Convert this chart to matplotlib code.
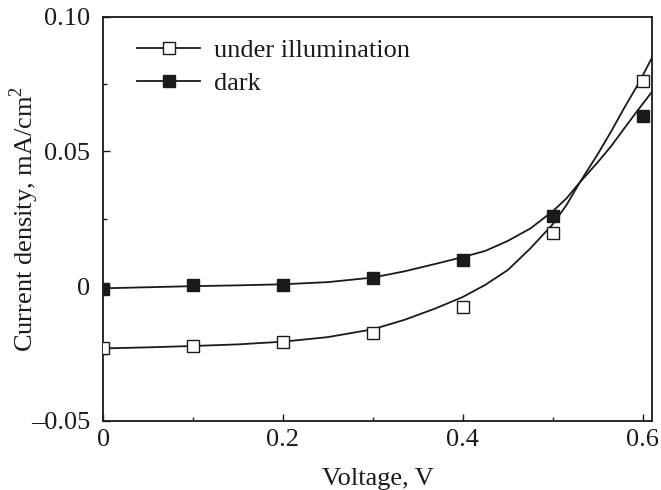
import matplotlib
matplotlib.use('Agg')
import matplotlib.pyplot as plt
from matplotlib.lines import Line2D
from matplotlib.ticker import FixedLocator, FuncFormatter

plt.rcParams['font.family'] = 'Liberation Serif'
plt.rcParams['mathtext.fontset'] = 'custom'
plt.rcParams['mathtext.rm'] = 'Liberation Serif'

# measured points
voltage = [0.0, 0.1, 0.2, 0.3, 0.4, 0.5, 0.6]
j_light = [-0.0231, -0.0222, -0.0206, -0.0173, -0.0076, 0.0198, 0.0763]
j_dark = [-0.0010, 0.0004, 0.0005, 0.0031, 0.0096, 0.0262, 0.0633]

# fitted curves
fit_v = [0.0, 0.05, 0.1, 0.15, 0.2, 0.25, 0.3, 0.335, 0.37, 0.4, 0.425,
         0.45, 0.475, 0.5, 0.515, 0.53, 0.55, 0.565, 0.58, 0.595, 0.61]
fit_light = [-0.0231, -0.0227, -0.0222, -0.0216, -0.0206, -0.0189, -0.0160,
             -0.0125, -0.0082, -0.0040, 0.0005, 0.0060, 0.0140, 0.0230,
             0.0300, 0.0385, 0.0490, 0.0575, 0.0665, 0.0750, 0.0846]
fit_dark = [-0.0008, -0.0004, 0.0000, 0.0003, 0.0007, 0.0015, 0.0032,
            0.0055, 0.0083, 0.0108, 0.0131, 0.0168, 0.0214, 0.0278,
            0.0325, 0.0385, 0.0460, 0.0520, 0.0588, 0.0655, 0.0720]

labels = ['under illumination', 'dark']

FS = 19
ink = '#1a1a1a'

fig = plt.figure(figsize=(6.61, 4.90), dpi=100)
ax = fig.add_axes([0.156, 0.141, 0.830, 0.825])

lw = 1.3
ax.plot(fit_v, fit_light, color=ink, lw=lw)
ax.plot(fit_v, fit_dark, color=ink, lw=lw)
ax.plot(voltage, j_light, ls='none', marker='s', ms=8.5, mfc='white',
        mec=ink, mew=1.0, zorder=3)
ax.plot(voltage, j_dark, ls='none', marker='s', ms=8.5, mfc=ink,
        mec=ink, mew=1.0, zorder=3)

ax.set_xlim(0, 0.61)
ax.set_ylim(-0.05, 0.10)

ax.xaxis.set_major_locator(FixedLocator([0, 0.2, 0.4, 0.6]))
ax.xaxis.set_minor_locator(FixedLocator([0.1, 0.3, 0.5]))
ax.yaxis.set_major_locator(FixedLocator([-0.05, 0, 0.05, 0.10]))
ax.yaxis.set_minor_locator(FixedLocator([-0.025, 0.025, 0.075]))


def fmt_x(v, pos):
    if abs(v) < 1e-9:
        return '0'
    return '%.1f' % v


def fmt_y(v, pos):
    if abs(v) < 1e-9:
        return '0'
    s = '%.2f' % abs(v)
    return ('\u2013' + s) if v < 0 else s


ax.xaxis.set_major_formatter(FuncFormatter(fmt_x))
ax.yaxis.set_major_formatter(FuncFormatter(fmt_y))

ax.tick_params(which='both', direction='in', top=False, right=False,
               labelsize=FS, width=1.0, colors=ink)
ax.tick_params(which='major', length=5)
ax.tick_params(axis='x', which='major', pad=6)
ax.tick_params(axis='y', which='major', pad=9.5)
ax.tick_params(which='minor', length=3)
for sp in ax.spines.values():
    sp.set_linewidth(1.3)
    sp.set_color(ink)

ax.set_xlabel('Voltage, V', fontsize=FS, labelpad=12, color=ink)
ax.set_ylabel(r'Current density, mA/cm$^{2}$', fontsize=FS, color=ink)
ax.yaxis.set_label_coords(-0.114, 0.5)

handles = [
    Line2D([], [], color=ink, lw=lw, marker='s', ms=8.5, mfc='white',
           mec=ink, mew=1.0),
    Line2D([], [], color=ink, lw=lw, marker='s', ms=8.5, mfc=ink,
           mec=ink, mew=1.0),
]
leg = ax.legend(handles, labels, loc='upper left',
                bbox_to_anchor=(0.062, 0.945), frameon=False, fontsize=FS,
                handlelength=2.4, handletextpad=0.5, labelspacing=0.35,
                borderpad=0, borderaxespad=0)
for t in leg.get_texts():
    t.set_color(ink)

fig.savefig('out.png', dpi=100)
